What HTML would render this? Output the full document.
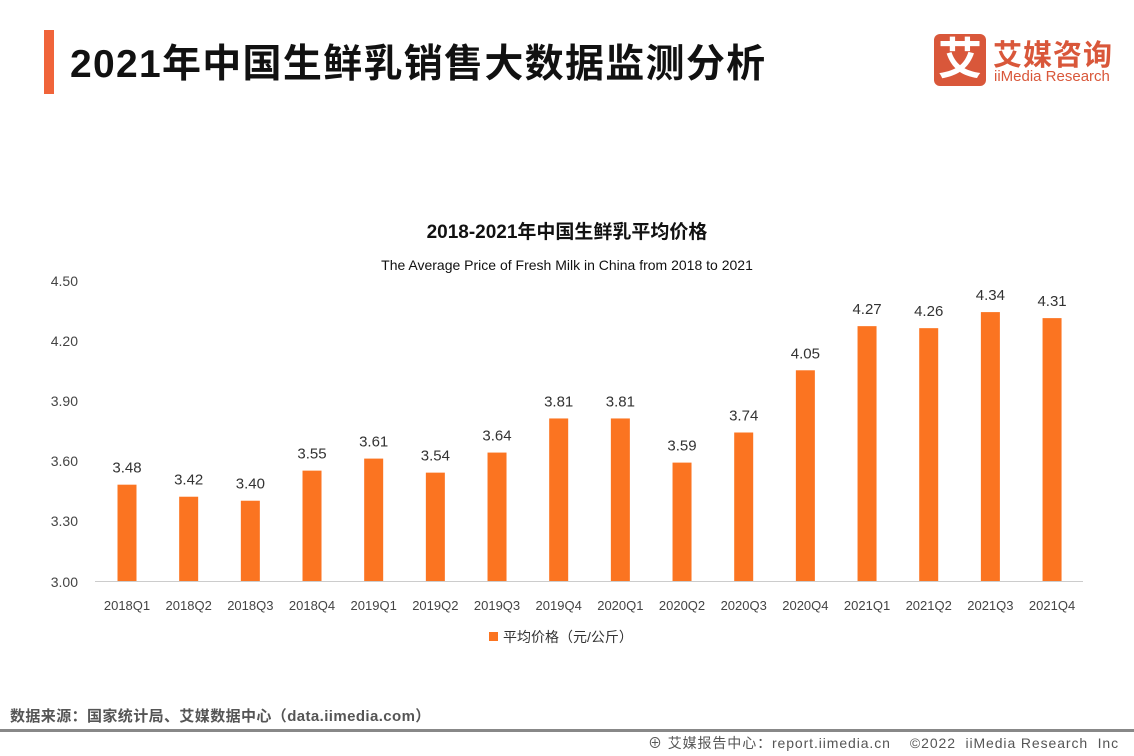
<!DOCTYPE html>
<html><head><meta charset="utf-8"><style>
body{margin:0;width:1134px;height:756px;background:#fff;overflow:hidden;font-family:"Liberation Sans","Noto Sans CJK SC",sans-serif;position:relative}
.t{position:absolute;white-space:nowrap}
</style></head><body>
<div class="t" style="left:44px;top:30px;width:10px;height:64px;background:#f0643a"></div>
<div class="t" style="left:70px;top:33px;font-size:39px;font-weight:bold;color:#111;letter-spacing:1.3px">2021年中国生鲜乳销售大数据监测分析</div>
<div class="t" style="left:934px;top:34px;width:52px;height:52px;background:#d9573a;border-radius:6px;color:#fff;font-size:44px;font-weight:bold;text-align:center;line-height:52px">艾</div>
<div class="t" style="left:993px;top:32px;font-size:29px;font-weight:bold;color:#d9573a;letter-spacing:1px">艾媒咨询</div>
<div class="t" style="left:994px;top:68px;font-size:15px;color:#d9573a">iiMedia Research</div>
<svg width="1134" height="756" style="position:absolute;left:0;top:0">
<g font-family="Liberation Sans, Noto Sans CJK SC, sans-serif">
<text x="567" y="238" font-size="19" font-weight="bold" text-anchor="middle" fill="#111">2018-2021年中国生鲜乳平均价格</text>
<text x="567" y="270" font-size="14" text-anchor="middle" fill="#111">The Average Price of Fresh Milk in China from 2018 to 2021</text>
<g font-size="14" fill="#444" text-anchor="end">
<text x="78" y="286">4.50</text><text x="78" y="346">4.20</text><text x="78" y="406">3.90</text><text x="78" y="466">3.60</text><text x="78" y="526">3.30</text><text x="78" y="587">3.00</text>
</g>
<line x1="95" y1="581.5" x2="1083" y2="581.5" stroke="#ccc"/>
<g id="bars"></g>
<rect x="489" y="632" width="9" height="9" fill="#fb7421"/>
<text x="503" y="642" font-size="14" fill="#333">平均价格（元/公斤）</text>
</g></svg>
<div class="t" style="left:10px;top:705px;font-size:15px;font-weight:bold;color:#555;letter-spacing:0.4px">数据来源：国家统计局、艾媒数据中心（data.iimedia.com）</div>
<div class="t" style="left:0;top:729px;width:1134px;height:3px;background:#888"></div>
<div class="t" style="left:648px;top:733px;font-size:14px;color:#555;letter-spacing:0.9px">⊕ 艾媒报告中心：report.iimedia.cn &nbsp;&nbsp; ©2022 &nbsp;iiMedia Research &nbsp;Inc</div>
<script>
var v=[3.48,3.42,3.40,3.55,3.61,3.54,3.64,3.81,3.81,3.59,3.74,4.05,4.27,4.26,4.34,4.31];
var l=["2018Q1","2018Q2","2018Q3","2018Q4","2019Q1","2019Q2","2019Q3","2019Q4","2020Q1","2020Q2","2020Q3","2020Q4","2021Q1","2021Q2","2021Q3","2021Q4"];
var g=document.getElementById('bars'),s='';
v.forEach(function(d,i){var cx=127+i*61.67,y=581-(d-3)*200.67;
s+='<rect x="'+(cx-9.5)+'" y="'+y+'" width="19" height="'+(581-y)+'" fill="#fb7421"/>';
s+='<text x="'+cx+'" y="'+(y-12)+'" font-size="15" text-anchor="middle" fill="#333">'+d.toFixed(2)+'</text>';
s+='<text x="'+cx+'" y="610" font-size="13" text-anchor="middle" fill="#444">'+l[i]+'</text>';});
g.innerHTML=s;
</script>
</body></html>
